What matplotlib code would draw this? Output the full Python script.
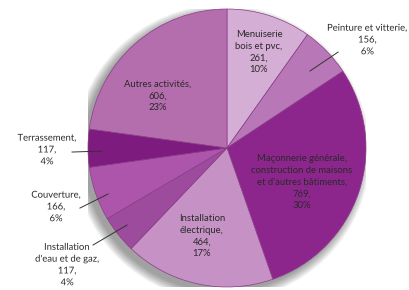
import numpy as np
import matplotlib
matplotlib.use('Agg')
import matplotlib.pyplot as plt
from matplotlib.patches import Circle
import matplotlib.patheffects as pe

# ── Data ───────────────────────────────────────────────────────────────────────
labels = ['Menuiserie\nbois et pvc,', 'Peinture et vitterie,',
          'Maçonnerie générale,\nconstruction de maisons\net d\'autres bâtiments,',
          'Installation\nélectrique,', 'Installation\nd\'eau et de gaz,',
          'Couverture,', 'Terrassement,', 'Autres activités,']
values = [261, 156, 769, 464, 117, 166, 117, 606]
pcts   = ['10%', '6%', '30%', '17%', '4%', '6%', '4%', '23%']
colors = ['#d4aed4', '#b877b6', '#8c268c', '#c691c4',
          '#9c4b9d', '#ad55aa', '#7e1b7e', '#b46dad']

# label placement (axes data units, pie radius = 1)
text_xy = [(0.23, 0.69), (1.01, 0.777), (0.54, -0.245), (-0.18, -0.633),
           (-1.15, -0.842), (-1.23, -0.424), (-1.295, -0.014), (-0.496, 0.374)]
# leader lines for the outside labels: (from, to)
leaders = {1: ((0.597, 0.554), (0.799, 0.69)),
           4: ((-0.964, -0.698), (-0.719, -0.554)),
           5: ((-1.058, -0.432), (-0.856, -0.331)),
           6: ((-1.115, -0.029), (-0.899, -0.022))}

W, H = 410, 290
fig = plt.figure(figsize=(W / 100, H / 100), dpi=100)
fig.patch.set_facecolor('white')
cx, cy, R = 227, 148, 139
ax = fig.add_axes([(cx - R) / W, (H - cy - R) / H, 2 * R / W, 2 * R / H])
ax.set_xlim(-1, 1)
ax.set_ylim(-1, 1)
ax.set_aspect('equal')
ax.axis('off')

# soft drop shadow
for i in range(12):
    ax.add_patch(Circle((-0.035, -0.035), 1.0 + 0.006 * i, color='#000000',
                        alpha=0.035, lw=0, zorder=0))

ax.pie(values, colors=colors, startangle=90, counterclock=False, radius=1,
       wedgeprops=dict(edgecolor='#8a3d88', linewidth=0.5))
ax.set_xlim(-1, 1)
ax.set_ylim(-1, 1)

for i, (lab, v, p) in enumerate(zip(labels, values, pcts)):
    x, y = text_xy[i]
    outside = i in leaders
    eff = [pe.withStroke(linewidth=1.5, foreground='white')] if outside else None
    ax.text(x, y, f'{lab}\n{v},\n{p}', ha='center', va='center',
            fontsize=6.8, family='Lato', color='#2a2a2a', linespacing=1.4,
            path_effects=eff, clip_on=False, zorder=5)

for i, (p0, p1) in leaders.items():
    ax.plot([p0[0], p1[0]], [p0[1], p1[1]], color='#333333', lw=0.7,
            zorder=4, clip_on=False)

fig.savefig('out.png', dpi=100, facecolor='white')
